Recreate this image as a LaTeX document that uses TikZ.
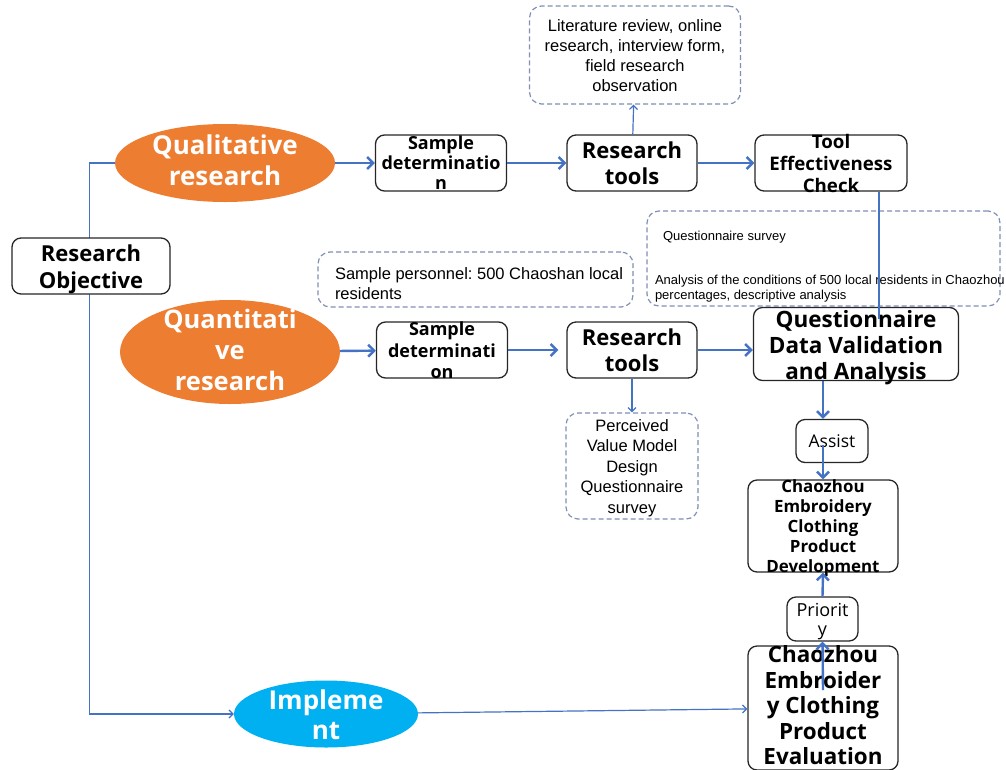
\documentclass[tikz,border=0pt]{standalone}
\usepackage{fontspec}
\setmainfont{Liberation Sans}
\newfontfamily\yahei{Open Sans}
\usetikzlibrary{positioning, arrows.meta, shapes.geometric}
\definecolor{arrowblue}{HTML}{4472C4}
\definecolor{qualorange}{HTML}{ED7D31}
\definecolor{implcyan}{HTML}{00B0F0}
\definecolor{dashgray}{HTML}{7F8FB5}
\frenchspacing
% text of a fixed size box, centred, may run over its border
\newcommand{\ctext}[1]{\makebox[0pt]{\smash{\raisebox{-.4em}{\begin{tabular}{@{}c@{}}#1\end{tabular}}}}}
% same, left aligned inside a width, lowered by #2
\newcommand{\ltext}[3]{\makebox[#1][l]{\smash{\raisebox{-#2}{\begin{tabular}{@{}l@{}}#3\end{tabular}}}}}
\newcommand{\fsz}[2]{\fontsize{#1}{#2}\selectfont}

\begin{document}
\begin{tikzpicture}[
    x=1pt, y=-1pt,
    % Styles
    box/.style={% For the rounded boxes
        rectangle,
        rounded corners=9pt,
        draw=black!85,
        line width=1.3pt,
        fill=white,
        inner sep=0pt,
        },
    note/.style={% For the dashed notes
        rectangle,
        rounded corners=12pt,
        draw=dashgray,
        dash pattern=on 5pt off 3pt,
        line width=1.2pt,
        fill=white,
        inner sep=0pt,
        },
    oval/.style={% For the coloured ellipses
        ellipse,
        inner sep=0pt,
        text=white,
        },
    ArrowB/.style={% Thick arrows
        arrowblue,
        line width=2.4pt,
        >={Straight Barb[length=6pt, width=12pt]},
        },
    ArrowT/.style={% Thin arrows
        arrowblue,
        line width=1.2pt,
        >={Straight Barb[length=4pt, width=8pt]},
        },
    ]
    \useasboundingbox (0,0) rectangle (1006,769);

    % Draw the ellipses
    \node [oval, fill=qualorange, minimum width=220pt, minimum height=78pt,
        font=\yahei\bfseries\fsz{26}{31}] (qual) at (225,163) {\raisebox{6pt}{\ctext{Qualitative\\research}}};
    \node [oval, fill=qualorange, minimum width=220pt, minimum height=104pt,
        font=\yahei\bfseries\fsz{25.5}{31}] (quant) at (230,352) {\raisebox{6pt}{\ctext{Quantitati\\ve\\research}}};
    \node [oval, fill=implcyan, minimum width=184pt, minimum height=67pt,
        font=\yahei\bfseries\fsz{26}{30}] (impl) at (326,714) {\ctext{Impleme\\nt}};

    % Left trunk, behind the objective
    \draw [ArrowT, ->] (qual.west) -- ++(-25,0) |- (impl.west);
    \node [box, minimum width=158pt, minimum height=56pt,
        font=\yahei\bfseries\fsz{22}{27}] (obj) at (91,266) {\ctext{Research\\Objective}};

    % Qualitative row
    \node [box, minimum width=131pt, minimum height=56pt,
        font=\yahei\bfseries\fsz{18}{20}] (samp1) at (441,163) {\ctext{Sample\\determinatio\\n}};
    \node [box, minimum width=130pt, minimum height=56pt,
        font=\yahei\bfseries\fsz{22}{26}] (tools1) at (632,163) {\ctext{Research\\tools}};
    \node [box, minimum width=152pt, minimum height=56pt,
        font=\yahei\bfseries\fsz{18.7}{22}] (check) at (831,163) {\ctext{Tool\\Effectiveness\\Check}};
    \node [note, minimum width=211pt, minimum height=98pt,
        font=\fsz{16.5}{20}] (lit) at (635,55)
        {\ctext{Literature review, online\\research, interview form,\\field research\\observation}};

    % Quantitative row
    \node [note, minimum width=315pt, minimum height=55pt,
        font=\fsz{16.5}{20}] (pers) at (475.5,279.5)
        {\ltext{281pt}{.6em}{Sample personnel: 500 Chaoshan local\\residents}};
    \node [note, minimum width=353pt, minimum height=95pt,
        font=\fsz{13}{15}] (survey) at (823.5,258.5)
        {\ltext{337pt}{.85em}{\hspace*{8pt}Questionnaire survey\\[29pt]Analysis of the conditions of 500 local residents in Chaozhou\\percentages, descriptive analysis}};
    \node [box, minimum width=131pt, minimum height=56pt,
        font=\yahei\bfseries\fsz{18}{21.5}] (samp2) at (442,350) {\ctext{Sample\\determinati\\on}};
    \node [box, minimum width=130pt, minimum height=56pt,
        font=\yahei\bfseries\fsz{22}{26}] (tools2) at (632,350) {\ctext{Research\\tools}};
    \node [box, minimum width=205pt, minimum height=73pt,
        font=\yahei\bfseries\fsz{22.5}{26}] (qdata) at (856,344) {\ctext{Questionnaire\\Data Validation\\and Analysis}};
    \node [note, minimum width=132pt, minimum height=106pt,
        font=\fsz{16.5}{20.5}] (perc) at (632,466)
        {\ctext{Perceived\\Value Model\\Design\\Questionnaire\\survey}};

    % Right column
    \node [box, minimum width=72pt, minimum height=43pt,
        font=\yahei\fsz{17.5}{19.5}] (assist) at (832,441) {\ctext{Assist}};
    \node [box, minimum width=150pt, minimum height=92pt,
        font=\yahei\bfseries\fsz{16.9}{20}] (dev) at (823,526)
        {\ctext{Chaozhou\\Embroidery\\Clothing\\Product\\Development}};
    \node [box, minimum width=71pt, minimum height=44pt,
        font=\yahei\fsz{18}{19.5}] (prio) at (822.5,619) {\ctext{Priorit\\y}};
    \node [box, minimum width=150pt, minimum height=124pt,
        font=\yahei\bfseries\fsz{22.4}{25.5}] (eval) at (823,708)
        {\raisebox{6pt}{\ctext{Chaozhou\\Embroider\\y Clothing\\Product\\Evaluation}}};

    % Connect all
    \draw [ArrowB, ->] (qual) -- (samp1);
    \draw [ArrowB, ->] (samp1) -- (tools1);
    \draw [ArrowB, ->] (tools1) -- (check);
    \draw [ArrowT, ->] (tools1) -- (lit);
    \draw [ArrowB] (check.south)++(48,0) -- ++(0,127);

    \draw [ArrowB, ->] (quant) -- (samp2);
    \draw [ArrowB, ->, shorten >=8pt] (samp2) -- (tools2);
    \draw [ArrowB, ->] (tools2) -- (tools2 -| qdata.west);
    \draw [ArrowT, ->] (tools2) -- (perc);

    \draw [ArrowB, ->] (qdata.south -| dev) -- (assist.north -| dev);
    \draw [ArrowB, ->] (assist.center -| dev)++(0,4) -- (dev.north);
    \draw [ArrowB, ->] (prio.north) -- (dev.south);
    \draw [ArrowB, ->] (eval.center)++(0,-18) -- (prio.south);
    \draw [ArrowT, ->] (impl) -- (eval);

\end{tikzpicture}
\end{document}
